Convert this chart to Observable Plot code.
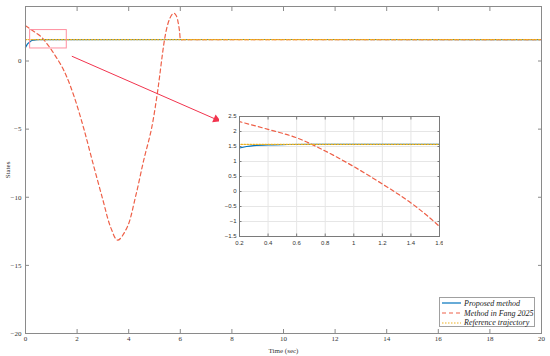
<!DOCTYPE html>
<html><head><meta charset="utf-8">
<script src="https://cdn.jsdelivr.net/npm/d3@7"></script>
<script src="https://cdn.jsdelivr.net/npm/@observablehq/plot@0.6"></script>
<style>
body{margin:0;background:#fff}
#wrap{position:relative;width:550px;height:356px;overflow:hidden}
#inset{position:absolute;left:219px;top:112px}
#legend{position:absolute;left:439px;top:297px;width:96px;height:30px;border:0.8px solid #a0a0a0;background:#fff;box-sizing:border-box;padding-top:0.5px}
.row{display:flex;align-items:center;height:9.7px;font:italic 8px "Liberation Serif",serif;color:#222;white-space:nowrap}
.row svg{margin-left:2px;margin-right:3px}
</style>
</head><body>
<div id="wrap"><div id="main"></div><div id="inset"></div><div id="legend"></div></div>
<script>
// ---- data ----
const seriesNames = ["Proposed method", "Method in Fang 2025", "Reference trajectory"];
const seriesColors = ["#0072BD", "#EE6048", "#EDB120"];
const seriesDash = [null, "4,3", "1.5,1.5"];

const timeProposed = [0, 0.05, 0.1, 0.15, 0.2, 0.25, 0.3, 0.4, 0.5, 0.7, 20];
const valueProposed = [1.0, 1.17, 1.29, 1.38, 1.45, 1.5, 1.53, 1.555, 1.565, 1.5708, 1.5708];

const timeFang = [0, 0.2, 0.4, 0.6, 0.8, 1.0, 1.2, 1.4, 1.6, 1.9, 2.25, 2.6, 3.0, 3.3, 3.57, 3.94, 4.26, 4.58, 4.88, 5.1, 5.2, 5.3, 5.4, 5.5, 5.6, 5.7, 5.77, 5.85, 5.92, 5.97, 6.02, 6.1, 7, 20];
const valueFang = [2.58, 2.33, 2.07, 1.79, 1.35, 0.83, 0.25, -0.38, -1.17, -2.7, -4.9, -7.4, -10.2, -12.2, -13.15, -12.2, -10.0, -7.3, -5.0, -2.5, -1.1, 0.4, 1.7, 2.6, 3.15, 3.45, 3.5, 3.3, 2.8, 2.2, 1.57, 1.5708, 1.5708, 1.5708];

const timeReference = [0, 20];
const valueReference = [1.5708, 1.5708];

const xTicksMain = [0, 2, 4, 6, 8, 10, 12, 14, 16, 18, 20];
const yTicksMain = [-20, -15, -10, -5, 0];
const xTicksInset = [0.2, 0.4, 0.6, 0.8, 1, 1.2, 1.4, 1.6];
const yTicksInset = [-1.5, -1, -0.5, 0, 0.5, 1, 1.5, 2, 2.5];

const zoomBoxX = [0.18, 1.6];
const zoomBoxY = [0.92, 2.27];
const arrowStart = [1.81, 0.34];
const arrowEnd = [7.49, -4.37];

// ---- build tables ----
const toRows = (ts, vs) => ts.map((t, i) => ({t, v: vs[i]}));
const proposed = toRows(timeProposed, valueProposed);
const fang = toRows(timeFang, valueFang);
const reference = toRows(timeReference, valueReference);
const series = [proposed, fang, reference];

const lineMarks = (clip) => series.map((d, i) => Plot.line(d, {
  x: "t", y: "v", stroke: seriesColors[i], strokeWidth: 1.2,
  strokeDasharray: seriesDash[i], curve: "catmull-rom", clip
}));

const fmt = (d) => String(d).replace("-", "\u2212");
const axisGray = "#8a8a8a";
const arrowColor = "#F2344E";
const main = Plot.plot({
  width: 550, height: 356,
  marginLeft: 25, marginRight: 9, marginTop: 6, marginBottom: 23,
  style: {fontFamily: "'Liberation Serif', serif", fontSize: "7px", color: "#333", background: "white"},
  x: {domain: [0, 20]},
  y: {domain: [-20, 4]},
  marks: [
    ...lineMarks(false),
    Plot.rect([{x1: zoomBoxX[0], x2: zoomBoxX[1], y1: zoomBoxY[0], y2: zoomBoxY[1]}],
      {x1: "x1", x2: "x2", y1: "y1", y2: "y2", fill: "none", stroke: "#FF8FA0", strokeWidth: 1}),
    Plot.arrow([{x1: arrowStart[0], y1: arrowStart[1], x2: arrowEnd[0], y2: arrowEnd[1]}],
      {x1: "x1", y1: "y1", x2: "x2", y2: "y2", stroke: arrowColor, strokeWidth: 1, headLength: 0}),
    Plot.dot([{x: arrowEnd[0], y: arrowEnd[1]}],
      {x: "x", y: "y", symbol: "triangle", r: 3.2, fill: arrowColor, stroke: "none", rotate: 114, dx: -2.6, dy: -1.2}),
    Plot.frame({stroke: axisGray}),
    Plot.axisX(xTicksMain, {anchor: "bottom", tickSize: -4, tickFormat: () => "", label: null, stroke: axisGray}),
    Plot.axisX(xTicksMain, {anchor: "top", tickSize: -4, tickFormat: () => "", label: null, stroke: axisGray}),
    Plot.axisY(yTicksMain, {anchor: "left", tickSize: -4, tickFormat: () => "", label: null, stroke: axisGray}),
    Plot.axisY(yTicksMain, {anchor: "right", tickSize: -4, tickFormat: () => "", label: null, stroke: axisGray}),
    Plot.axisX(xTicksMain, {anchor: "bottom", tickSize: 0, tickPadding: 3, tickFormat: fmt, label: "Time (sec)", labelAnchor: "center", labelOffset: 19, labelArrow: "none"}),
    Plot.axisY(yTicksMain, {anchor: "left", tickSize: 0, tickPadding: 4, tickFormat: fmt, label: "States", labelAnchor: "center", labelOffset: 20, labelArrow: "none"})
  ]
});
document.getElementById("main").appendChild(main);

const insetGray = "#7a7a7a";
const inset = Plot.plot({
  width: 224, height: 138,
  marginLeft: 20, marginRight: 4, marginTop: 4, marginBottom: 14,
  style: {fontFamily: "'Liberation Sans', Arial, sans-serif", fontSize: "6px", color: "#333", background: "white"},
  x: {domain: [0.2, 1.6]},
  y: {domain: [-1.5, 2.5]},
  marks: [
    Plot.gridX(xTicksInset, {stroke: "#e6e6e6", strokeOpacity: 1}),
    Plot.gridY(yTicksInset, {stroke: "#e6e6e6", strokeOpacity: 1}),
    ...lineMarks(true),
    Plot.frame({stroke: insetGray}),
    Plot.axisX(xTicksInset, {anchor: "bottom", tickSize: -2.5, tickFormat: () => "", label: null, stroke: insetGray}),
    Plot.axisX(xTicksInset, {anchor: "top", tickSize: -2.5, tickFormat: () => "", label: null, stroke: insetGray}),
    Plot.axisY(yTicksInset, {anchor: "left", tickSize: -2.5, tickFormat: () => "", label: null, stroke: insetGray}),
    Plot.axisY(yTicksInset, {anchor: "right", tickSize: -2.5, tickFormat: () => "", label: null, stroke: insetGray}),
    Plot.axisX(xTicksInset, {anchor: "bottom", tickSize: 0, tickPadding: 4, tickFormat: fmt, label: null}),
    Plot.axisY(yTicksInset, {anchor: "left", tickSize: 0, tickPadding: 3, tickFormat: fmt, label: null})
  ]
});
document.getElementById("inset").appendChild(inset);

// legend
const legend = document.getElementById("legend");
seriesNames.forEach((name, i) => {
  const row = document.createElement("div");
  row.className = "row";
  const dash = seriesDash[i] ? ` stroke-dasharray="${seriesDash[i]}"` : "";
  row.innerHTML = `<svg width="19" height="6"><line x1="0" y1="3" x2="19" y2="3" stroke="${seriesColors[i]}" stroke-width="1.2"${dash}/></svg><span>${name}</span>`;
  legend.appendChild(row);
});
</script>
</body></html>
